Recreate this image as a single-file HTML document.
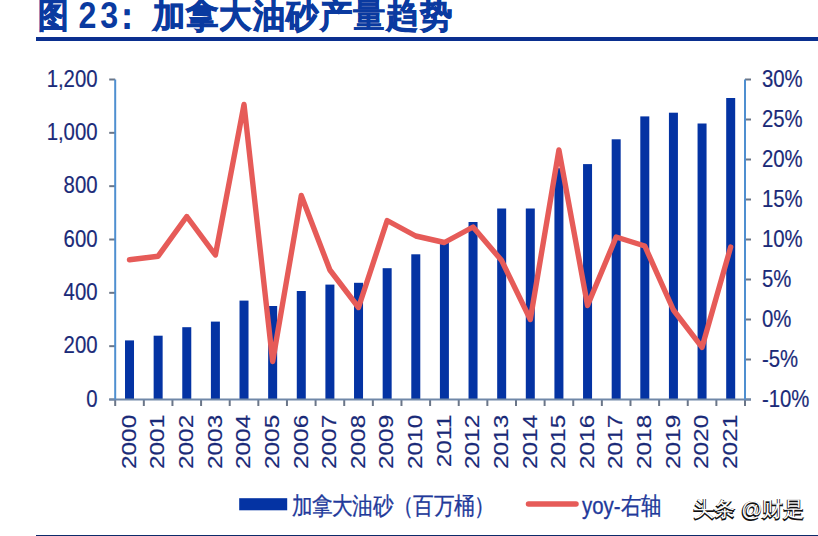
<!DOCTYPE html><html><head><meta charset="utf-8"><style>html,body{margin:0;padding:0;background:#fff;}body{width:818px;height:536px;overflow:hidden;}svg{display:block;}text{font-family:"Liberation Sans",sans-serif;}</style></head><body>
<svg width="818" height="536" viewBox="0 0 818 536">
<rect x="36" y="37" width="782" height="4" fill="#0a2f8f"/>
<rect x="36" y="535" width="782" height="1" fill="#0d2a6a"/>
<g fill="#0a3aa0" stroke="#0a3aa0" stroke-width="0.9" font-weight="bold">
<g transform="translate(37.5,26.8) scale(0.9,1)"><text font-size="34" stroke-width="1.0">图</text></g>
<g transform="translate(78.5,28.2) scale(0.87,1)"><text font-size="37" stroke-width="0" letter-spacing="4.3">23</text></g>
<g transform="translate(111.5,28) scale(0.86,1)"><text font-size="35">：</text></g>
<g transform="translate(152.50,26.8) scale(0.95,1)"><text font-size="34" stroke-width="0.9">加</text></g>
<g transform="translate(185.90,26.8) scale(0.95,1)"><text font-size="34" stroke-width="0.9">拿</text></g>
<g transform="translate(219.30,26.8) scale(0.95,1)"><text font-size="34" stroke-width="0.9">大</text></g>
<g transform="translate(252.70,26.8) scale(0.95,1)"><text font-size="34" stroke-width="0.9">油</text></g>
<g transform="translate(286.10,26.8) scale(0.95,1)"><text font-size="34" stroke-width="0.9">砂</text></g>
<g transform="translate(319.50,26.8) scale(0.95,1)"><text font-size="34" stroke-width="0.9">产</text></g>
<g transform="translate(352.90,26.8) scale(0.95,1)"><text font-size="34" stroke-width="0.2">量</text></g>
<g transform="translate(386.30,26.8) scale(0.95,1)"><text font-size="34" stroke-width="0.9">趋</text></g>
<g transform="translate(419.70,26.8) scale(0.95,1)"><text font-size="34" stroke-width="0.9">势</text></g>
</g>
<rect x="125.01" y="340.40" width="9" height="59.10" fill="#0433a3"/>
<rect x="153.64" y="335.70" width="9" height="63.80" fill="#0433a3"/>
<rect x="182.27" y="327.20" width="9" height="72.30" fill="#0433a3"/>
<rect x="210.90" y="321.60" width="9" height="77.90" fill="#0433a3"/>
<rect x="239.52" y="300.60" width="9" height="98.90" fill="#0433a3"/>
<rect x="268.15" y="306.00" width="9" height="93.50" fill="#0433a3"/>
<rect x="296.78" y="291.00" width="9" height="108.50" fill="#0433a3"/>
<rect x="325.40" y="284.60" width="9" height="114.90" fill="#0433a3"/>
<rect x="354.03" y="282.80" width="9" height="116.70" fill="#0433a3"/>
<rect x="382.66" y="268.20" width="9" height="131.30" fill="#0433a3"/>
<rect x="411.29" y="254.30" width="9" height="145.20" fill="#0433a3"/>
<rect x="439.91" y="243.00" width="9" height="156.50" fill="#0433a3"/>
<rect x="468.54" y="222.00" width="9" height="177.50" fill="#0433a3"/>
<rect x="497.17" y="208.50" width="9" height="191.00" fill="#0433a3"/>
<rect x="525.80" y="208.50" width="9" height="191.00" fill="#0433a3"/>
<rect x="554.42" y="168.20" width="9" height="231.30" fill="#0433a3"/>
<rect x="583.05" y="164.10" width="9" height="235.40" fill="#0433a3"/>
<rect x="611.68" y="139.30" width="9" height="260.20" fill="#0433a3"/>
<rect x="640.30" y="116.40" width="9" height="283.10" fill="#0433a3"/>
<rect x="668.93" y="112.70" width="9" height="286.80" fill="#0433a3"/>
<rect x="697.56" y="123.50" width="9" height="276.00" fill="#0433a3"/>
<rect x="726.19" y="98.00" width="9" height="301.50" fill="#0433a3"/>
<g stroke="#6b7688" stroke-width="2" fill="none">
<path d="M109.2 79.50 H115.2"/>
<path d="M109.2 132.83 H115.2"/>
<path d="M109.2 186.17 H115.2"/>
<path d="M109.2 239.50 H115.2"/>
<path d="M109.2 292.83 H115.2"/>
<path d="M109.2 346.17 H115.2"/>
<path d="M109.2 399.50 H115.2"/>
<path d="M745.0 79.50 H751.0"/>
<path d="M745.0 119.50 H751.0"/>
<path d="M745.0 159.50 H751.0"/>
<path d="M745.0 199.50 H751.0"/>
<path d="M745.0 239.50 H751.0"/>
<path d="M745.0 279.50 H751.0"/>
<path d="M745.0 319.50 H751.0"/>
<path d="M745.0 359.50 H751.0"/>
<path d="M745.0 399.50 H751.0"/>
<path d="M115.20 399.5 V406.0"/>
<path d="M143.83 399.5 V406.0"/>
<path d="M172.45 399.5 V406.0"/>
<path d="M201.08 399.5 V406.0"/>
<path d="M229.71 399.5 V406.0"/>
<path d="M258.34 399.5 V406.0"/>
<path d="M286.96 399.5 V406.0"/>
<path d="M315.59 399.5 V406.0"/>
<path d="M344.22 399.5 V406.0"/>
<path d="M372.85 399.5 V406.0"/>
<path d="M401.47 399.5 V406.0"/>
<path d="M430.10 399.5 V406.0"/>
<path d="M458.73 399.5 V406.0"/>
<path d="M487.35 399.5 V406.0"/>
<path d="M515.98 399.5 V406.0"/>
<path d="M544.61 399.5 V406.0"/>
<path d="M573.24 399.5 V406.0"/>
<path d="M601.86 399.5 V406.0"/>
<path d="M630.49 399.5 V406.0"/>
<path d="M659.12 399.5 V406.0"/>
<path d="M687.75 399.5 V406.0"/>
<path d="M716.37 399.5 V406.0"/>
<path d="M745.00 399.5 V406.0"/>
</g>
<path d="M109.2 399.5 H751.0" stroke="#7088a8" stroke-width="2" fill="none"/>
<path d="M115.2 79.5 V399.5 M745.0 79.5 V399.5" stroke="#4f8fd0" stroke-width="2" fill="none"/>
<polyline points="129.51,259.80 158.14,256.20 186.77,216.50 215.40,255.00 244.02,104.50 272.65,361.50 301.28,195.50 329.90,270.00 358.53,307.50 387.16,220.50 415.79,236.00 444.41,242.50 473.04,227.00 501.67,260.60 530.30,319.50 558.92,150.00 587.55,305.50 616.18,237.00 644.80,246.00 673.43,310.00 702.06,347.30 730.69,247.00" fill="none" stroke="#e65b58" stroke-width="5.4" stroke-linejoin="round" stroke-linecap="round"/>
<g fill="#1a2a78" stroke="#1a2a78" stroke-width="0.2" font-size="24.5">
<g transform="translate(97.5,86.70) scale(0.83,1)"><text text-anchor="end">1,200</text></g>
<g transform="translate(97.5,140.03) scale(0.83,1)"><text text-anchor="end">1,000</text></g>
<g transform="translate(97.5,193.37) scale(0.83,1)"><text text-anchor="end">800</text></g>
<g transform="translate(97.5,246.70) scale(0.83,1)"><text text-anchor="end">600</text></g>
<g transform="translate(97.5,300.03) scale(0.83,1)"><text text-anchor="end">400</text></g>
<g transform="translate(97.5,353.37) scale(0.83,1)"><text text-anchor="end">200</text></g>
<g transform="translate(97.5,406.70) scale(0.83,1)"><text text-anchor="end">0</text></g>
<g transform="translate(762,86.70) scale(0.83,1)"><text>30%</text></g>
<g transform="translate(762,126.70) scale(0.83,1)"><text>25%</text></g>
<g transform="translate(762,166.70) scale(0.83,1)"><text>20%</text></g>
<g transform="translate(762,206.70) scale(0.83,1)"><text>15%</text></g>
<g transform="translate(762,246.70) scale(0.83,1)"><text>10%</text></g>
<g transform="translate(762,286.70) scale(0.83,1)"><text>5%</text></g>
<g transform="translate(762,326.70) scale(0.83,1)"><text>0%</text></g>
<g transform="translate(762,366.70) scale(0.83,1)"><text>-5%</text></g>
<g transform="translate(762,406.70) scale(0.83,1)"><text>-10%</text></g>
<g transform="translate(135.81,414.8) rotate(-90) scale(1,0.8)"><text text-anchor="end" font-size="24.4">2000</text></g>
<g transform="translate(164.44,414.8) rotate(-90) scale(1,0.8)"><text text-anchor="end" font-size="24.4">2001</text></g>
<g transform="translate(193.07,414.8) rotate(-90) scale(1,0.8)"><text text-anchor="end" font-size="24.4">2002</text></g>
<g transform="translate(221.70,414.8) rotate(-90) scale(1,0.8)"><text text-anchor="end" font-size="24.4">2003</text></g>
<g transform="translate(250.32,414.8) rotate(-90) scale(1,0.8)"><text text-anchor="end" font-size="24.4">2004</text></g>
<g transform="translate(278.95,414.8) rotate(-90) scale(1,0.8)"><text text-anchor="end" font-size="24.4">2005</text></g>
<g transform="translate(307.58,414.8) rotate(-90) scale(1,0.8)"><text text-anchor="end" font-size="24.4">2006</text></g>
<g transform="translate(336.20,414.8) rotate(-90) scale(1,0.8)"><text text-anchor="end" font-size="24.4">2007</text></g>
<g transform="translate(364.83,414.8) rotate(-90) scale(1,0.8)"><text text-anchor="end" font-size="24.4">2008</text></g>
<g transform="translate(393.46,414.8) rotate(-90) scale(1,0.8)"><text text-anchor="end" font-size="24.4">2009</text></g>
<g transform="translate(422.09,414.8) rotate(-90) scale(1,0.8)"><text text-anchor="end" font-size="24.4">2010</text></g>
<g transform="translate(450.71,414.8) rotate(-90) scale(1,0.8)"><text text-anchor="end" font-size="24.4">2011</text></g>
<g transform="translate(479.34,414.8) rotate(-90) scale(1,0.8)"><text text-anchor="end" font-size="24.4">2012</text></g>
<g transform="translate(507.97,414.8) rotate(-90) scale(1,0.8)"><text text-anchor="end" font-size="24.4">2013</text></g>
<g transform="translate(536.60,414.8) rotate(-90) scale(1,0.8)"><text text-anchor="end" font-size="24.4">2014</text></g>
<g transform="translate(565.22,414.8) rotate(-90) scale(1,0.8)"><text text-anchor="end" font-size="24.4">2015</text></g>
<g transform="translate(593.85,414.8) rotate(-90) scale(1,0.8)"><text text-anchor="end" font-size="24.4">2016</text></g>
<g transform="translate(622.48,414.8) rotate(-90) scale(1,0.8)"><text text-anchor="end" font-size="24.4">2017</text></g>
<g transform="translate(651.10,414.8) rotate(-90) scale(1,0.8)"><text text-anchor="end" font-size="24.4">2018</text></g>
<g transform="translate(679.73,414.8) rotate(-90) scale(1,0.8)"><text text-anchor="end" font-size="24.4">2019</text></g>
<g transform="translate(708.36,414.8) rotate(-90) scale(1,0.8)"><text text-anchor="end" font-size="24.4">2020</text></g>
<g transform="translate(736.99,414.8) rotate(-90) scale(1,0.8)"><text text-anchor="end" font-size="24.4">2021</text></g>
</g>
<rect x="239.2" y="498.2" width="48" height="12.1" fill="#0433a3"/>
<g transform="translate(291.5,514) scale(0.86,1)"><text fill="#22399a" stroke="#22399a" stroke-width="0.3" font-size="24">加拿大油砂（百万桶）</text></g>
<path d="M528.5 504 H576" stroke="#e65b58" stroke-width="5.5" stroke-linecap="round"/>
<g transform="translate(582,514) scale(0.85,1)"><text fill="#22399a" stroke="#22399a" stroke-width="0.3" font-size="24">yoy-右轴</text></g>
<g transform="translate(693,517) scale(1.0,1)"><text fill="#111" stroke="#111" stroke-width="1.5" font-size="21">头条 @财是</text><text x="0.3" y="-1.1" fill="#fff" font-size="21">头条 @财是</text></g>
</svg></body></html>
